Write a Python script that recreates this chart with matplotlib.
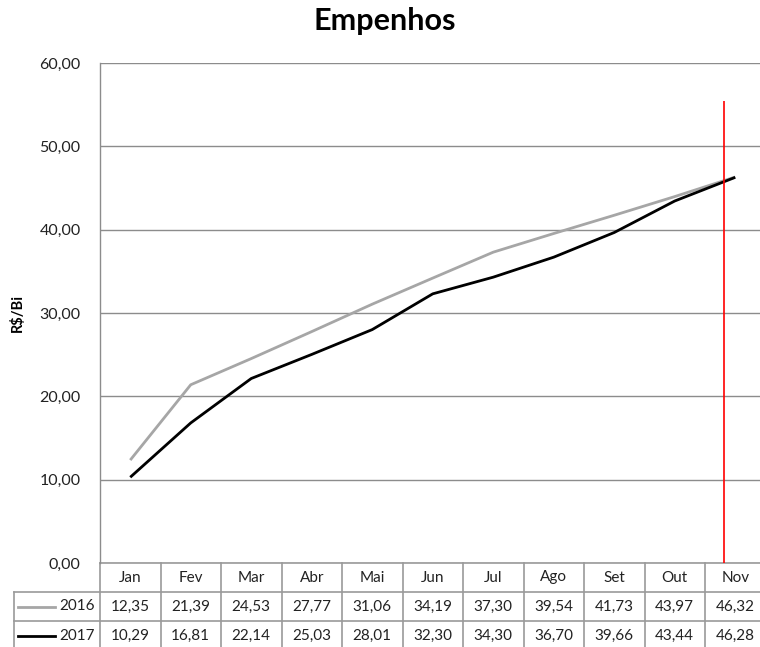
import matplotlib.pyplot as plt
import matplotlib.ticker as mticker

plt.rcParams['font.family'] = ['Lato', 'DejaVu Sans']

meses = ['Jan', 'Fev', 'Mar', 'Abr', 'Mai', 'Jun', 'Jul', 'Ago', 'Set', 'Out', 'Nov']
anos = ['2016', '2017']
emp_2016 = [12.35, 21.39, 24.53, 27.77, 31.06, 34.19, 37.30, 39.54, 41.73, 43.97, 46.32]
emp_2017 = [10.29, 16.81, 22.14, 25.03, 28.01, 32.30, 34.30, 36.70, 39.66, 43.44, 46.28]
yticks = [0, 10, 20, 30, 40, 50, 60]

# red reference line (position)
ref_x = 9.82
ref_top = 55.4

cores = ['#a6a6a6', '#000000']
grid_col = '#8c8c8c'
tab_col = '#9a9a9a'


def br(v):
    return f'{v:.2f}'.replace('.', ',')


W, H = 760, 647
fig = plt.figure(figsize=(W / 100, H / 100), dpi=100)
# plot area runs slightly past the right edge, as in the original
ax = fig.add_axes([100 / W, (H - 563) / H, 665.5 / W, 500 / H])

x = list(range(len(meses)))
series = [emp_2016, emp_2017]
for vals, c in zip(series, cores):
    ax.plot(x, vals, color=c, lw=2.0, solid_capstyle='butt', zorder=3)

ax.vlines(ref_x, 0, ref_top, color='#ff0000', lw=1.2, zorder=4)

ax.set_xlim(-0.5, len(meses) - 0.5)
ax.set_ylim(0, 60)
ax.set_yticks(yticks)
ax.yaxis.set_major_formatter(mticker.FuncFormatter(lambda v, p: br(v)))
ax.tick_params(axis='y', length=0, pad=14, labelsize=11.5, labelcolor='#222222')
ax.set_xticks([])
ax.grid(axis='y', color=grid_col, lw=1.0)
for s in ['right', 'top', 'bottom']:
    ax.spines[s].set_visible(False)
ax.spines['left'].set_color(grid_col)
ax.spines['left'].set_linewidth(1.0)

ax.set_ylabel('R$/Bi', fontsize=10.5, fontweight='bold')
ax.yaxis.set_label_coords(-0.113, 0.5)

fig.text(385 / W, 1 - 21 / H, 'Empenhos', ha='center', va='center',
         fontsize=22, fontweight='bold')

# data table under the chart
tr = ax.get_xaxis_transform()
row_h = 29 / 500
x_left_lab = -0.5 - 86 / 60.5
n = len(meses)
fs = 11

# header row
for i, m in enumerate(meses):
    ax.text(i, -row_h / 2, m, transform=tr, ha='center', va='center',
            fontsize=fs, color='#222222', clip_on=False)
for k, (ano, vals, c) in enumerate(zip(anos, series, cores)):
    yc = -row_h * (k + 1.5)
    for i, v in enumerate(vals):
        ax.text(i, yc, br(v), transform=tr, ha='center', va='center',
                fontsize=fs, color='#222222', clip_on=False)
    ax.plot([x_left_lab + 0.07, x_left_lab + 0.68], [yc, yc], transform=tr,
            color=c, lw=2.0, clip_on=False)
    ax.text(-0.58, yc, ano, transform=tr, ha='right', va='center',
            fontsize=fs, color='#222222', clip_on=False)

# table borders
kw = dict(transform=tr, color=tab_col, lw=1.2, clip_on=False)
ax.plot([-0.5, -0.5], [0, -row_h * 3.2], **kw)
for i in range(n):
    ax.plot([i + 0.5, i + 0.5], [0, -row_h * 3.2], **kw)
ax.plot([x_left_lab, x_left_lab], [-row_h, -row_h * 3.2], **kw)
ax.plot([x_left_lab, n - 0.5], [-row_h, -row_h], **kw)
ax.plot([x_left_lab, n - 0.5], [-row_h * 2, -row_h * 2], **kw)
ax.plot([-0.5, n - 0.5], [0, 0], **kw)

fig.savefig('out.png', dpi=100)
